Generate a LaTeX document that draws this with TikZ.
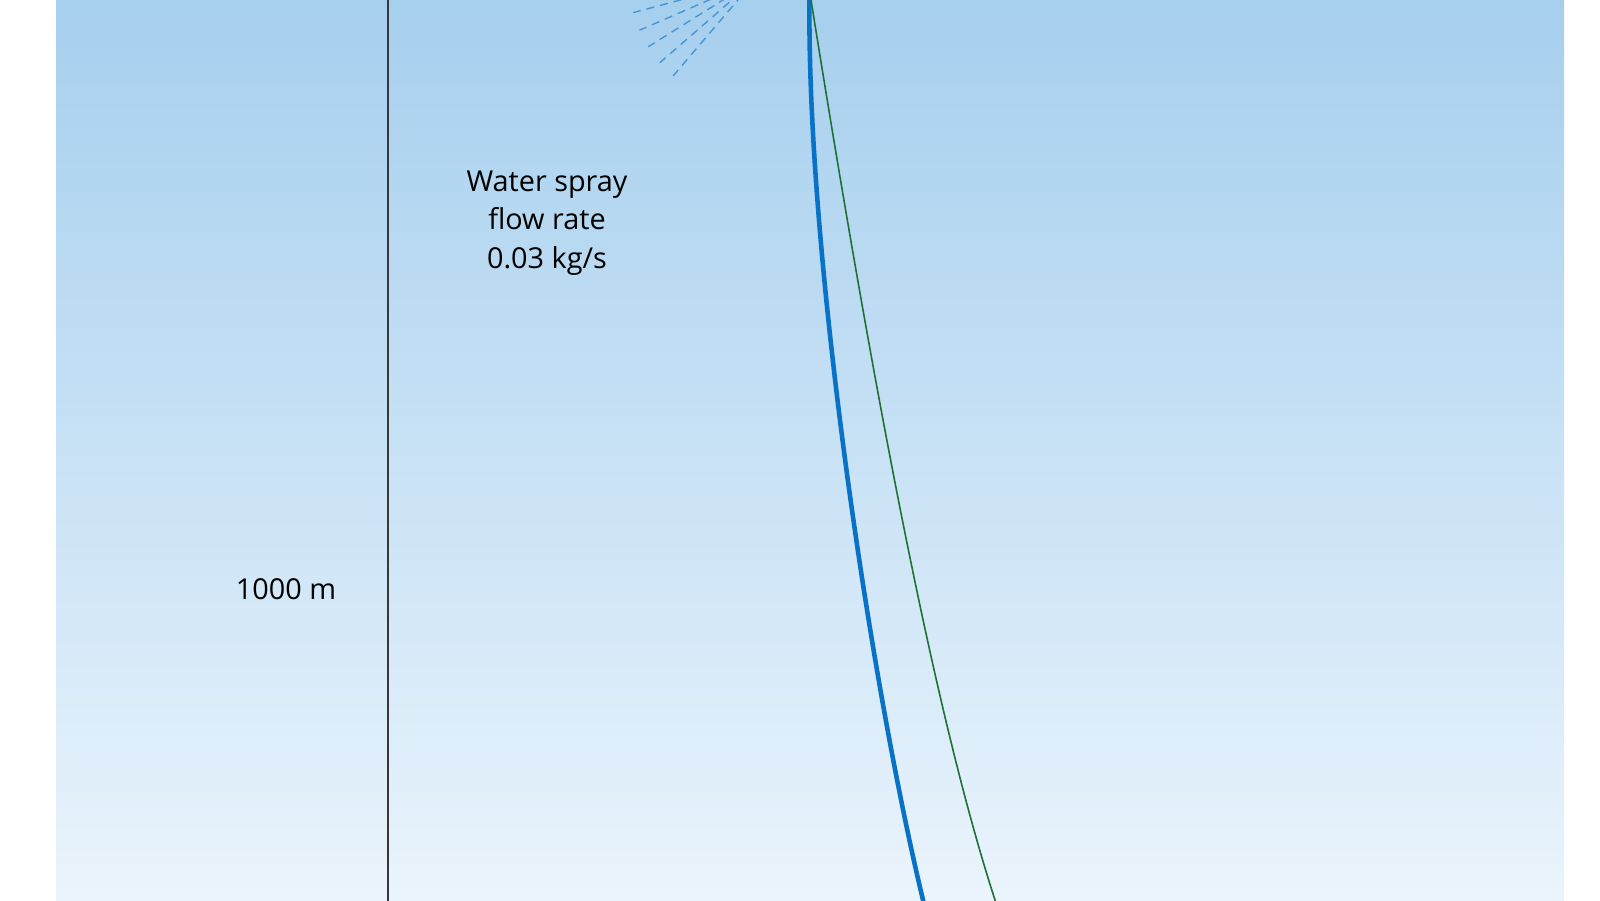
\documentclass[tikz,border=0pt]{standalone}
\usepackage{fontspec}
\setmainfont{Open Sans}
\usetikzlibrary{calc}
\definecolor{skytop}{RGB}{166,207,238}
\definecolor{skybot}{RGB}{234,244,252}
\definecolor{traj}{RGB}{8,114,198}
\definecolor{gtraj}{RGB}{30,112,52}
\definecolor{spray}{RGB}{70,150,215}
\definecolor{axisgray}{RGB}{55,55,60}
\tikzset{
  lbl/.style={font=\fontsize{8.2}{11}\selectfont, text=black, align=center, inner sep=0pt},
  spraydash/.style={draw=spray, line width=0.4pt, dash pattern=on 2.3pt off 1.7pt},
}
\begin{document}
\begin{tikzpicture}
\useasboundingbox (0,0) rectangle (16,9);
\clip (0,0) rectangle (16,9);
\shade[top color=skytop, bottom color=skybot] (0.56,0) rectangle (15.64,9);
% vertical scale line
\draw[axisgray, line width=0.6pt] (3.88,-0.1) -- (3.88,9.1);
% spray
\coordinate (sp) at (7.55,9.20);
\foreach \a in {195,203.5,212,221,229.5}{
  \draw[spraydash] ($(sp)+(\a:0.2)$) -- ($(sp)+(\a:1.26)$);
}
% trajectories
\coordinate (btop) at (8.095,9.02);
\coordinate (bbot) at (9.23,0);
\coordinate (gtop) at (8.11,9.0);
\coordinate (gbot) at (9.95,0);
\draw[traj, line width=1.3pt] (btop) .. controls (8.065,6.5) and (8.7,2.2) .. (bbot) -- ++(0.04,-0.2);
\draw[gtraj, line width=0.45pt] (gtop) .. controls (8.67,5.5) and (9.3,2.0) .. (gbot) -- ++(0.055,-0.2);
% labels
\node[lbl] (flow) at (5.47,6.77) {Water spray\\flow rate\\0.03 kg/s};
\node[lbl] (height) at (2.86,3.11) {1000 m};
\end{tikzpicture}
\end{document}
